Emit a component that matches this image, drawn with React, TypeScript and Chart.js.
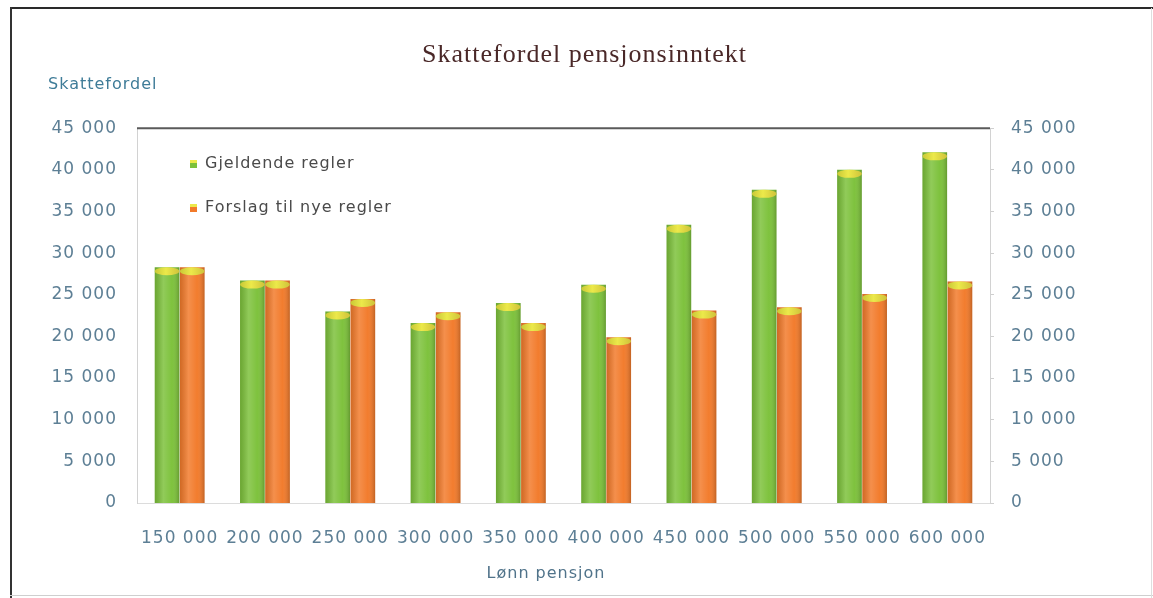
import React, { useEffect, useRef } from "react";
import { Chart, registerables } from "chart.js";

Chart.register(...registerables);

const chartTitle = "Skattefordel pensjonsinntekt";
const yAxisTitle = "Skattefordel";
const xAxisTitle = "Lønn pensjon";
const categories = ["150 000", "200 000", "250 000", "300 000", "350 000", "400 000", "450 000", "500 000", "550 000", "600 000"];
const seriesNames = ["Gjeldende regler", "Forslag til nye regler"];
const currentRules = [28300, 26700, 23000, 21600, 24000, 26200, 33400, 37600, 40000, 42100];
const proposedRules = [28300, 26700, 24500, 22900, 21600, 19900, 23100, 23500, 25100, 26600];
const yMin = 0;
const yMax = 45000;
const yStep = 5000;

const seriesColors = ["#7cc13a", "#f27a2a"];
const capColor = "#ece94a";
const tickColor = "#5d7f95";
const tickFont = { family: "DejaVu Sans", size: 17 };

const W = 1153;
const H = 598;

function fmt(v: number): string {
  return String(v).replace(/\B(?=(\d{3})+(?!\d))/g, " ");
}

const spacingPlugin = {
  id: "spacing",
  beforeDraw(chart: any) {
    (chart.ctx as any).letterSpacing = "1px";
  },
};

const decorPlugin = {
  id: "decor",
  afterDatasetsDraw(chart: any) {
    const ctx = chart.ctx as CanvasRenderingContext2D;
    chart.data.datasets.forEach((_ds: any, di: number) => {
      const meta = chart.getDatasetMeta(di);
      meta.data.forEach((bar: any) => {
        const { x, y, base, width } = bar.getProps(["x", "y", "base", "width"], true);
        const l = x - width / 2;
        const g = ctx.createLinearGradient(l, 0, l + width, 0);
        g.addColorStop(0, "rgba(0,0,0,0.14)");
        g.addColorStop(0.35, "rgba(255,255,255,0.16)");
        g.addColorStop(0.7, "rgba(255,255,255,0.02)");
        g.addColorStop(1, "rgba(0,0,0,0.2)");
        ctx.save();
        ctx.fillStyle = g;
        ctx.fillRect(l, y, width, base - y);
        const cg = ctx.createLinearGradient(l, 0, l + width, 0);
        cg.addColorStop(0, "#c9c836");
        cg.addColorStop(0.45, capColor);
        cg.addColorStop(1, "#cfc23a");
        ctx.fillStyle = cg;
        ctx.beginPath();
        ctx.ellipse(x, y + 4, width / 2, 4, 0, 0, Math.PI * 2);
        ctx.fill();
        ctx.restore();
      });
    });
  },
  afterDraw(chart: any) {
    const ctx = chart.ctx as CanvasRenderingContext2D;
    const a = chart.chartArea;
    ctx.save();
    (ctx as any).letterSpacing = "1px";
    // top border of plot area
    ctx.strokeStyle = "#5a5a5a";
    ctx.lineWidth = 2;
    ctx.beginPath();
    ctx.moveTo(a.left, a.top);
    ctx.lineTo(a.right, a.top);
    ctx.stroke();
    // axis titles
    ctx.font = "16px 'DejaVu Sans'";
    ctx.textBaseline = "middle";
    ctx.fillStyle = "#3f7c98";
    ctx.textAlign = "left";
    ctx.fillText(yAxisTitle, 48, 85);
    ctx.fillStyle = "#50738a";
    ctx.textAlign = "center";
    ctx.fillText(xAxisTitle, 546, 574);
    // legend inside plot
    ctx.font = "16px 'DejaVu Sans'";
    ctx.textAlign = "left";
    chart.data.datasets.forEach((ds: any, i: number) => {
      const yy = 164 + i * 44;
      ctx.fillStyle = ds.backgroundColor;
      ctx.fillRect(190, yy - 3, 7, 7);
      ctx.fillStyle = capColor;
      ctx.fillRect(190, yy - 4, 7, 3);
      ctx.fillStyle = "#4a4a4a";
      ctx.fillText(ds.label, 205, yy);
    });
    ctx.restore();
  },
};

export default function App() {
  const ref = useRef<HTMLCanvasElement | null>(null);

  useEffect(() => {
    if (!ref.current) return;
    const yTicksCommon = {
      color: tickColor,
      font: tickFont,
      callback: (v: any) => fmt(Number(v)),
    };
    const chart = new Chart(ref.current, {
      type: "bar",
      data: {
        labels: categories,
        datasets: [
          {
            label: seriesNames[0],
            data: currentRules,
            backgroundColor: seriesColors[0],
            categoryPercentage: 0.59,
            barPercentage: 0.98,
          },
          {
            label: seriesNames[1],
            data: proposedRules,
            backgroundColor: seriesColors[1],
            categoryPercentage: 0.59,
            barPercentage: 0.98,
          },
        ],
      },
      options: {
        responsive: false,
        animation: false,
        layout: { padding: { left: 16, right: 0, top: 0, bottom: 0 } },
        plugins: {
          legend: { display: false },
          tooltip: { enabled: false },
          title: {
            display: true,
            text: chartTitle,
            color: "#4a2828",
            font: { family: "Liberation Serif", size: 26, weight: "normal" },
            padding: { top: 40, bottom: 57 },
          },
        },
        scales: {
          x: {
            grid: { display: false },
            border: { display: true, color: "#dcdcdc" },
            ticks: { color: tickColor, font: tickFont, padding: 17, maxRotation: 0, autoSkip: false },
            afterFit: (s: any) => {
              s.height = H - 503;
            },
          },
          y: {
            position: "left",
            min: yMin,
            max: yMax,
            grid: { display: false },
            border: { display: true, color: "#d2d2d2" },
            ticks: { ...yTicksCommon, stepSize: yStep, padding: 12 },
            afterFit: (s: any) => {
              s.width = 137 - 16;
            },
          },
          y2: {
            position: "right",
            min: yMin,
            max: yMax,
            grid: { display: true, drawOnChartArea: false, color: "#cfcfcf", tickLength: 4 },
            border: { display: true, color: "#d2d2d2" },
            ticks: { ...yTicksCommon, stepSize: yStep, padding: 17 },
            afterFit: (s: any) => {
              s.width = W - 990;
            },
          },
        },
      },
      plugins: [spacingPlugin, decorPlugin],
    });
    return () => chart.destroy();
  }, []);

  return (
    <div style={{ position: "fixed", left: 0, top: 0, width: W, height: H, background: "#fff", overflow: "hidden" }}>
      <canvas ref={ref} width={W} height={H} style={{ position: "absolute", left: 0, top: 0, width: W, height: H }} />
      <div style={{ position: "absolute", left: 10, top: 7, width: W - 10, height: 2, background: "#2a2a2a" }} />
      <div style={{ position: "absolute", left: 10, top: 7, width: 2, height: H - 7, background: "#333" }} />
      <div style={{ position: "absolute", left: 10, top: 595, width: W - 10, height: 1, background: "#cfcfcf" }} />
      <div style={{ position: "absolute", left: W - 2, top: 8, width: 1, height: H - 8, background: "#dedede" }} />
    </div>
  );
}
